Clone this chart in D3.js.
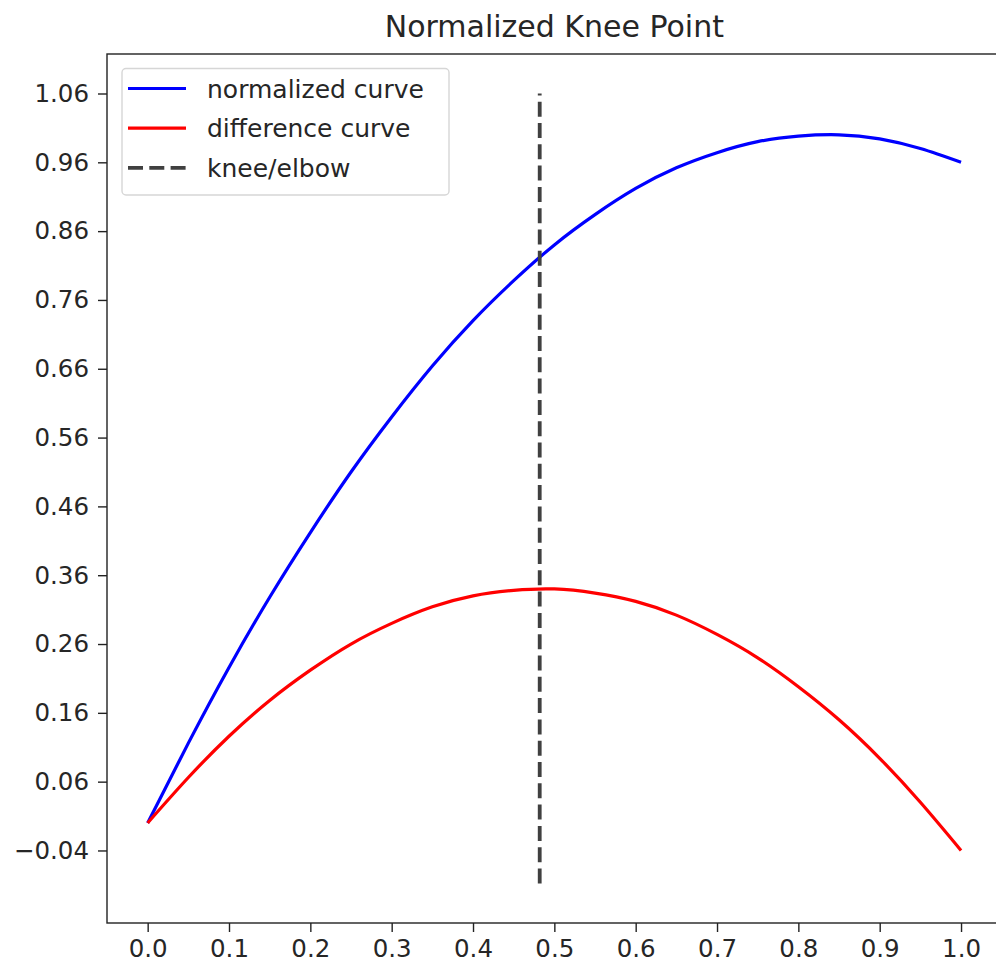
<!DOCTYPE html>
<html>
<head>
<meta charset="utf-8">
<script src="https://cdn.jsdelivr.net/npm/d3@7"></script>
<style>
  html, body { margin: 0; padding: 0; background: #fff; }
  text { font-family: "DejaVu Sans", sans-serif; fill: #262626; }
</style>
</head>
<body>
<svg id="chart" width="996" height="973"></svg>
<script>
// ---- data ----
const xValues = [0, 0.05, 0.1, 0.15, 0.2, 0.25, 0.3, 0.35, 0.4, 0.45, 0.5, 0.55, 0.6, 0.65, 0.7, 0.75, 0.8, 0.85, 0.9, 0.95, 1.0];
const normalizedCurve = [0, 0.116, 0.226, 0.328, 0.422, 0.510, 0.590, 0.664, 0.730, 0.788, 0.840, 0.884, 0.922, 0.952, 0.974, 0.990, 0.998, 1.0, 0.994, 0.980, 0.96];
const differenceCurve = [0, 0.066, 0.126, 0.178, 0.222, 0.260, 0.290, 0.314, 0.330, 0.338, 0.340, 0.334, 0.322, 0.302, 0.274, 0.240, 0.198, 0.150, 0.094, 0.030, -0.04];
const kneeX = 0.482;
const kneeYRange = [-0.088, 1.06];
const xTicks = [0.0, 0.1, 0.2, 0.3, 0.4, 0.5, 0.6, 0.7, 0.8, 0.9, 1.0];
const yTicks = [-0.04, 0.06, 0.16, 0.26, 0.36, 0.46, 0.56, 0.66, 0.76, 0.86, 0.96, 1.06];
const seriesNames = ["normalized curve", "difference curve", "knee/elbow"];
const titleText = "Normalized Knee Point";

(function () {
// ---- layout ----
const svg = d3.select("#chart");
const pl = 107, pr = 1001.7, pt = 54, pb = 923;
const x = d3.scaleLinear().domain([-0.05, 1.05]).range([pl, pr]);
const y = d3.scaleLinear().domain([-0.1454, 1.1174]).range([pb, pt]);

// title
svg.append("text")
  .attr("x", (pl + pr) / 2)
  .attr("y", 37)
  .attr("text-anchor", "middle")
  .style("font-size", "30px")
  .text(titleText);

// axes
const xAxis = d3.axisBottom(x).tickValues(xTicks).tickFormat(d3.format(".1f")).tickSize(9).tickPadding(8);
const yAxis = d3.axisLeft(y).tickValues(yTicks).tickFormat(d => d3.format(".2f")(d).replace("-", "\u2212")).tickSize(9).tickPadding(9);

const gx = svg.append("g").attr("transform", `translate(0,${pb})`).call(xAxis);
const gy = svg.append("g").attr("transform", `translate(${pl},0)`).call(yAxis);
[gx, gy].forEach(g => {
  g.select(".domain").remove();
  g.selectAll(".tick line").attr("stroke", "#222").attr("stroke-width", 1.4);
  g.selectAll(".tick text").style("font-size", "24.5px").attr("fill", "#262626").style("font-family", "DejaVu Sans, sans-serif");
});

// spines
svg.append("rect")
  .attr("x", pl).attr("y", pt)
  .attr("width", pr - pl).attr("height", pb - pt)
  .attr("fill", "none").attr("stroke", "#222").attr("stroke-width", 1.4);

// lines
const line = d3.line().x(d => x(d[0])).y(d => y(d[1])).curve(d3.curveNatural);
svg.append("path")
  .datum(xValues.map((v, i) => [v, normalizedCurve[i]]))
  .attr("d", line).attr("fill", "none").attr("stroke", "#0000ff").attr("stroke-width", 3.2);
svg.append("path")
  .datum(xValues.map((v, i) => [v, differenceCurve[i]]))
  .attr("d", line).attr("fill", "none").attr("stroke", "#ff0000").attr("stroke-width", 3.2);

// knee line
svg.append("line")
  .attr("x1", x(kneeX)).attr("x2", x(kneeX))
  .attr("y1", y(kneeYRange[0])).attr("y2", y(kneeYRange[1]))
  .attr("stroke", "#404040").attr("stroke-width", 3.8)
  .attr("stroke-dasharray", "15,6.3");

// legend
const lg = svg.append("g");
lg.append("rect")
  .attr("x", 122).attr("y", 68.5).attr("width", 327).attr("height", 126.5)
  .attr("rx", 4).attr("fill", "#fff").attr("fill-opacity", 0.8)
  .attr("stroke", "#d6d6d6").attr("stroke-width", 1.4);
const legendItems = [
  { name: seriesNames[0], color: "#0000ff", dash: null },
  { name: seriesNames[1], color: "#ff0000", dash: null },
  { name: seriesNames[2], color: "#404040", dash: "15,6.3" }
];
legendItems.forEach((it, i) => {
  const ly = 88.5 + i * 39.7;
  lg.append("line")
    .attr("x1", 128).attr("x2", 186).attr("y1", ly).attr("y2", ly)
    .attr("stroke", it.color).attr("stroke-width", it.dash ? 3.8 : 3.2)
    .attr("stroke-dasharray", it.dash);
  lg.append("text")
    .attr("x", 207).attr("y", ly + 9)
    .style("font-size", "25px")
    .text(it.name);
});
})();
</script>
</body>
</html>
